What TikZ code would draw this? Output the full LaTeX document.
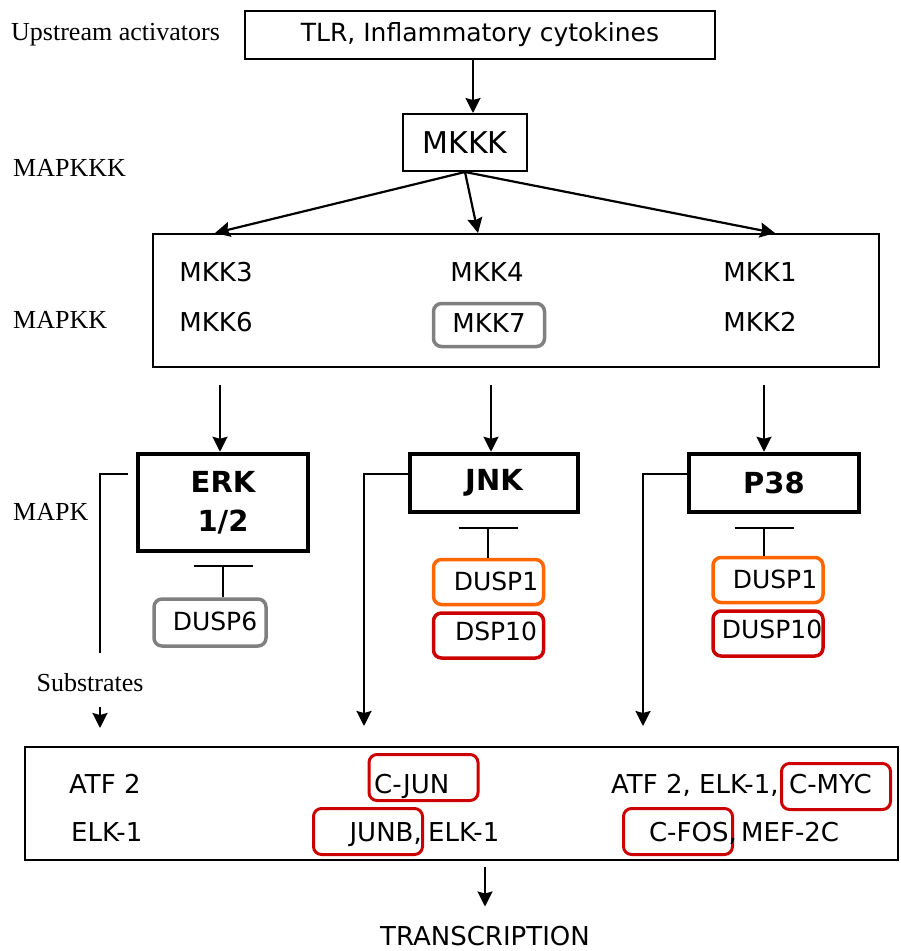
\documentclass[tikz,border=0pt]{standalone}
\usepackage{fontspec}
\setmainfont{DejaVu Sans}
\newfontfamily\sidefont{Liberation Serif}
\usetikzlibrary{arrows.meta}
\definecolor{tagorange}{RGB}{255,102,0}
\definecolor{tagred}{RGB}{204,0,0}
\definecolor{taggray}{RGB}{128,128,128}
\begin{document}
\begin{tikzpicture}[x=1pt,y=-1pt,
  plainbox/.style={draw, line width=2pt, inner sep=0pt},
  heavybox/.style={draw, line width=4.5pt, inner sep=0pt, align=center,
    font=\bfseries\fontsize{29}{39}\selectfont},
  tag/.style={draw, rounded corners=8pt, line width=3.5pt, inner sep=0pt,
    minimum width=110pt, minimum height=45pt},
  frame/.style={draw=tagred, rounded corners=8pt, line width=3pt, inner sep=0pt,
    minimum width=109pt, minimum height=46pt},
  side/.style={font=\sidefont\fontsize{26}{29}\selectfont, inner sep=0pt},
  txt/.style={font=\fontsize{26}{30}\selectfont, inner sep=0pt},
  tagtxt/.style={font=\fontsize{25}{29}\selectfont, inner sep=0pt},
  arr/.style={line width=2.2pt, -{Stealth[length=15pt,width=15pt,inset=2pt]}},
  link/.style={line width=1.8pt},
  inhibit/.style={line width=1.8pt, -{Bar[width=59pt]}},
]
\useasboundingbox (0,0) rectangle (901,951);

% side labels for the cascade levels
\node[side, anchor=west] (lup)  at (11,35)  {Upstream activators};
\node[side, anchor=west] (l3k)  at (13,168) {MAPKKK};
\node[side, anchor=west] (l2k)  at (13,320) {MAPKK};
\node[side, anchor=west] (l1k)  at (13,512) {MAPK};
\node[side] (lsub) at (90,683) {Substrates};

% upstream activators and MAPKKK
\node[plainbox, minimum width=470pt, minimum height=48pt,
      font=\fontsize{25}{29}\selectfont] (tlr) at (480,35) {TLR, Inflammatory cytokines};
\node[plainbox, minimum width=124pt, minimum height=57pt,
      font=\fontsize{30}{34}\selectfont] (mkkk) at (465,142.5) {MKKK};
\draw[arr] ([xshift=-7pt]tlr.south) -- ([xshift=8pt]mkkk.north);

% MAPKK level
\node[plainbox, minimum width=726pt, minimum height=133pt] (mapkk) at (516,300.5) {};
\draw[arr] (mkkk.south) -- ([xshift=-301pt]mapkk.north);
\draw[arr] (mkkk.south) -- ([xshift=-38pt]mapkk.north);
\draw[arr] (mkkk.south) -- ([xshift=259pt]mapkk.north);

\node[txt] (mkk3) at (216,272) {MKK3};
\node[txt] (mkk6) at (216,322) {MKK6};
\node[txt] (mkk4) at (487,272) {MKK4};
\node[tag, draw=taggray, minimum width=111pt, minimum height=43pt] (mkk7box) at (489,325) {};
\node[txt] (mkk7) at (489,323) {MKK7};
\node[txt] (mkk1) at (760,272) {MKK1};
\node[txt] (mkk2) at (760,322) {MKK2};

% MAPK level
\node[heavybox, minimum width=170pt, minimum height=97pt] (erk) at (223,502.5) {ERK\\1/2};
\node[heavybox, minimum width=168pt, minimum height=58pt] (jnk) at (494,483) {JNK};
\node[heavybox, minimum width=170pt, minimum height=58pt] (p38) at (774,483) {P38};

\coordinate (ka) at (220,385);
\coordinate (kb) at (491,385);
\coordinate (kc) at (764,385);
\draw[arr] (ka) -- (ka |- erk.north);
\draw[arr] (kb) -- (kb |- jnk.north);
\draw[arr] (kc) -- (kc |- p38.north);

% phosphatases
\node[tag, draw=taggray, minimum width=112pt, minimum height=47pt] (dusp6) at (210,622.5) {};
\node[tagtxt] (dusp6t) at (215,621) {DUSP6};
\node[tag, draw=tagorange] (jd1) at (488.5,582) {};
\node[tagtxt] (jd1t) at (496,581) {DUSP1};
\node[tag, draw=tagred] (jd10) at (488.5,635.5) {};
\node[tagtxt] (jd10t) at (496,631) {DSP10};
\node[tag, draw=tagorange] (pd1) at (768,580) {};
\node[tagtxt] (pd1t) at (775,579) {DUSP1};
\node[tag, draw=tagred] (pd10) at (768,633.5) {};
\node[tagtxt] (pd10t) at (772,629) {DUSP10};

\coordinate (te) at (223,565);
\coordinate (tj) at (488,527);
\coordinate (tp) at (764,527);
\draw[inhibit] (te |- dusp6.north) -- (te);
\draw[inhibit] (tj |- jd1.north) -- (tj);
\draw[inhibit] (tp |- pd1.north) -- (tp);

% routes to the substrates
\coordinate (e1) at (100,653);
\coordinate (e2) at (100,707);
\coordinate (e3) at (100,728);
\coordinate (j1) at (364,726);
\coordinate (p1) at (643,726);
\draw[link] ([xshift=-8pt,yshift=28.5pt]erk.west) -| (e1);
\draw[arr] (e2) -- (e3);
\draw[arr] ([yshift=9pt]jnk.west) -| (j1);
\draw[arr] ([yshift=9pt]p38.west) -| (p1);

% substrates
\node[plainbox, minimum width=873pt, minimum height=113pt] (subs) at (461,803.5) {};
\node[frame] (fjun) at (423.5,777.5) {};
\node[frame] (fmyc) at (836,786.5) {};
\node[frame] (fjunb) at (368,831.5) {};
\node[frame] (ffos) at (678,831.5) {};

\node[txt, anchor=base west] (s1) at (69,793) {ATF 2};
\node[txt, anchor=base west] (s2) at (374,793) {C-JUN};
\node[txt, anchor=base west] (s3) at (611,793) {ATF 2, ELK-1,};
\node[txt, anchor=base west] (s4) at (789,793) {C-MYC};
\node[txt, anchor=base west] (s5) at (71,841) {ELK-1};
\node[txt, anchor=base east] (s6) at (422,841) {JUNB,};
\node[txt, anchor=base west] (s7) at (428,841) {ELK-1};
\node[txt, anchor=base east] (s8) at (737,841) {C-FOS,};
\node[txt, anchor=base west] (s9) at (741,841) {MEF-2C};

% transcription
\node[txt, anchor=base] (trans) at (485,945) {TRANSCRIPTION};
\coordinate (t1) at (485,867);
\draw[arr] (t1) -- ([yshift=19pt]trans.north);
\end{tikzpicture}
\end{document}
